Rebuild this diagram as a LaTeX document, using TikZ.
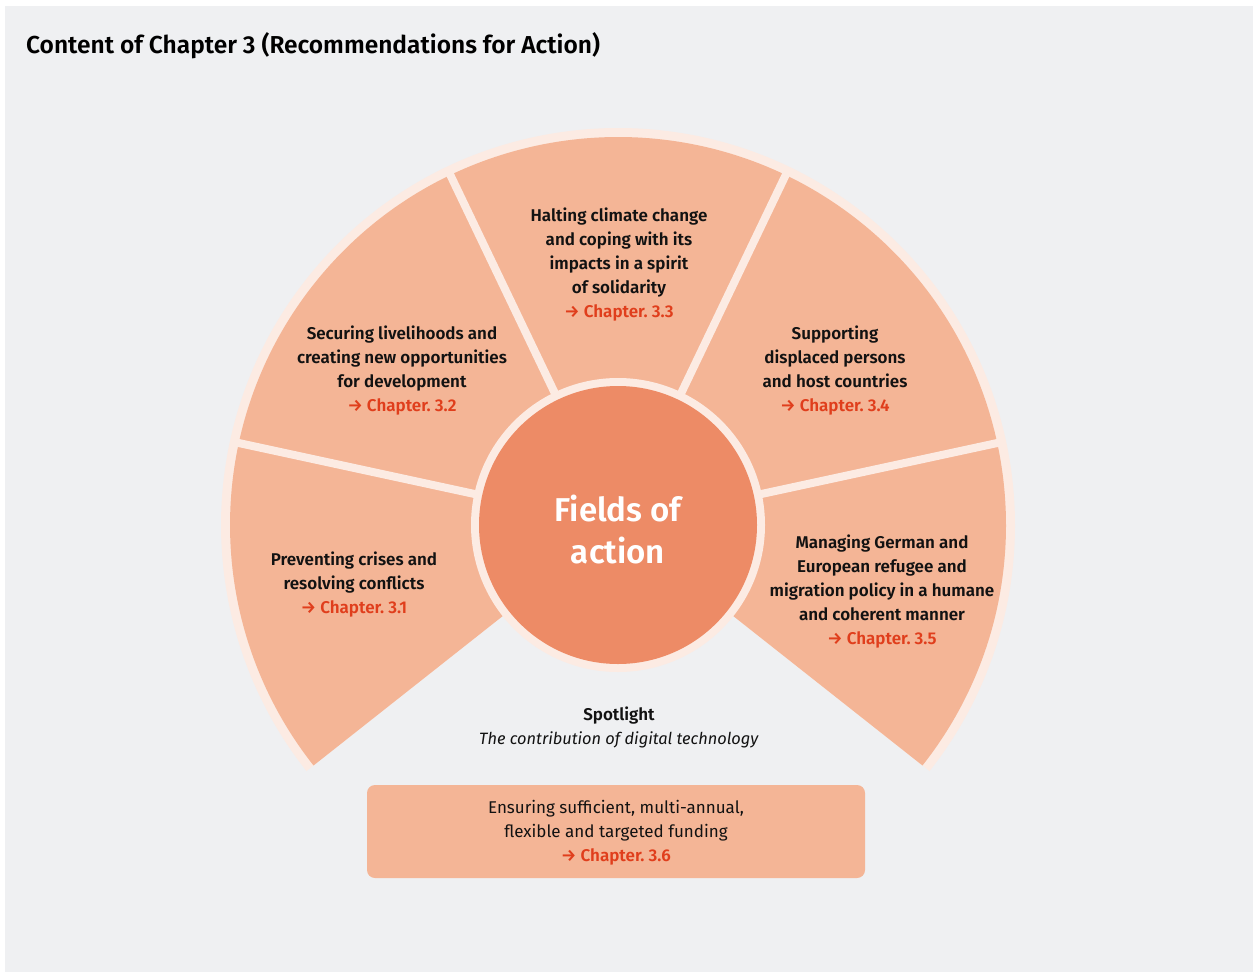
\documentclass[tikz,border=0pt]{standalone}
\usepackage{fontspec}
\setmainfont{Fira Sans}[BoldFont={Fira Sans SemiBold}, BoldItalicFont={Fira Sans SemiBold Italic}]
\usetikzlibrary{calc}

\definecolor{bg}{HTML}{EFF0F2}
\definecolor{seg}{HTML}{F4B596}
\definecolor{hub}{HTML}{ED8B66}
\definecolor{rim}{HTML}{FCEBE3}
\definecolor{chap}{HTML}{E03E1C}
\definecolor{ink}{HTML}{121212}

\newcommand{\chapref}[1]{\textcolor{chap}{→~Chapter.~#1}}

\begin{document}
\begin{tikzpicture}[x=1pt,y=1pt,
  segtext/.style={align=center, text=ink, font=\fontsize{17}{24}\selectfont\bfseries},
  plaintext/.style={align=center, text=ink, font=\fontsize{17}{24}\selectfont},
  hubtext/.style={align=center, text=white, font=\fontsize{33}{42}\selectfont\bfseries},
  titletext/.style={text=black, font=\fontsize{24.5}{28}\selectfont\bfseries, inner sep=0pt},
  fundbox/.style={fill=seg, rounded corners=8pt, minimum width=498pt, minimum height=93pt, inner sep=0pt},
  divider/.style={draw=rim, line width=8pt},
]
\useasboundingbox (0,0) rectangle (1253,-972);
\fill[white] (0,0) rectangle (1253,-972);
\fill[bg] (5,-6) rectangle (1253,-972);

\node[titletext, anchor=base west] (title) at (26,-53) {Content of Chapter 3 (Recommendations for Action)};

% fan of five fields around the hub
\coordinate (C) at (618,-525);
\fill[rim] (C) -- ++(-38.3:397) arc[start angle=-38.3, end angle=218.3, radius=397pt] -- cycle;
\fill[seg] (C) -- ++(-38.3:388) arc[start angle=-38.3, end angle=218.3, radius=388pt] -- cycle;
\foreach \a in {12.2,64.4,115.6,167.8}
  \draw[divider] (C) -- ++(\a:393);

% hub
\fill[rim] (C) circle (147pt);
\fill[hub] (C) circle (139pt);
\node[hubtext] (hub) at (618,-529.5) {Fields of\\action};

% field labels
\node[segtext] (f31) at (354,-585) {Preventing crises and\\resolving conflicts\\\chapref{3.1}};
\node[segtext] (f32) at (402,-370.5) {Securing livelihoods and\\creating new opportunities\\for development\\\chapref{3.2}};
\node[segtext] (f33) at (619,-264.5) {Halting climate change\\and coping with its\\impacts in a spirit\\of solidarity\\\chapref{3.3}};
\node[segtext] (f34) at (835,-370.5) {Supporting\\displaced persons\\and host countries\\\chapref{3.4}};
\node[segtext] (f35) at (882,-591.5) {Managing German and\\European refugee and\\migration policy in a humane\\and coherent manner\\\chapref{3.5}};

% spotlight
\node[plaintext] (spot) at (619,-727.5) {\textbf{Spotlight}\\\textit{\fontsize{16.4}{24}\selectfont The contribution of digital technology}};

% funding box
\node[fundbox] (fund) at (616,-831.5) {};
\node[plaintext] (fundtext) at ([yshift=-1.5pt]fund.center) {Ensuring sufficient, multi-annual,\\flexible and targeted funding\\\textbf{\chapref{3.6}}};
\end{tikzpicture}
\end{document}
